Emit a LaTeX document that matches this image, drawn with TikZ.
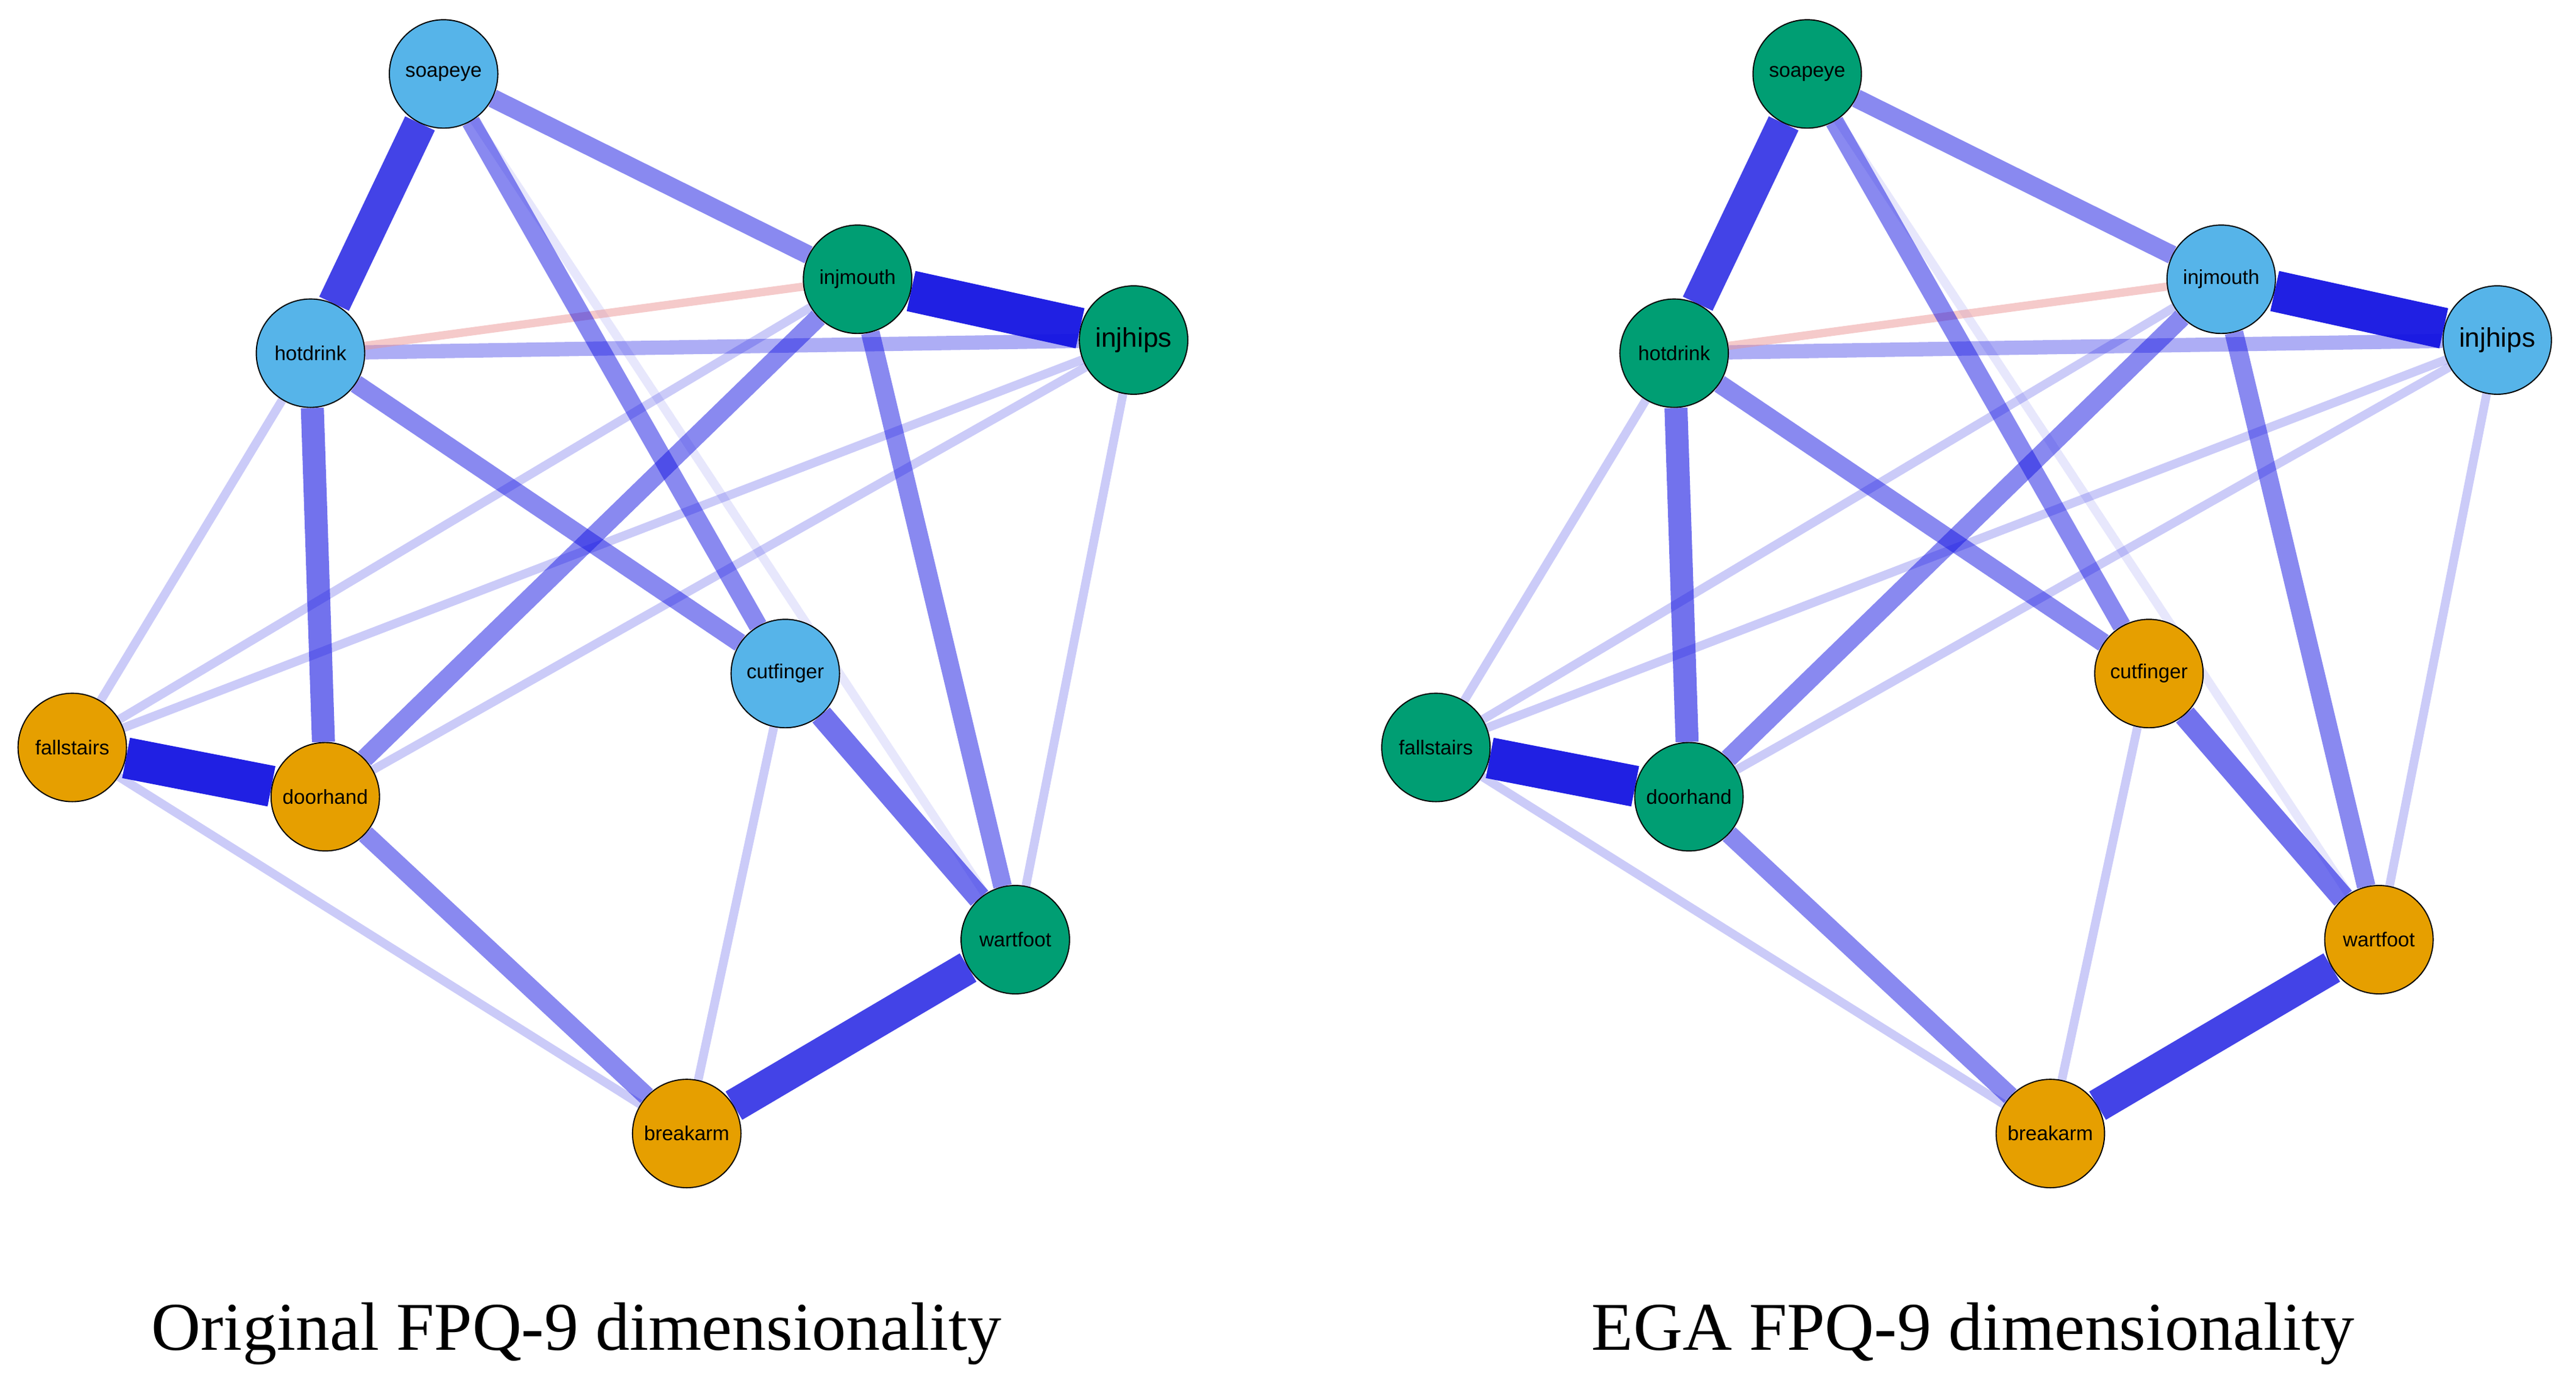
\documentclass[tikz,border=0pt]{standalone}
\usepackage{fontspec}
\setmainfont{Liberation Serif}
\newfontfamily\lsans{Liberation Sans}
\usetikzlibrary{backgrounds}
\definecolor{nblue}{HTML}{56B4E9}
\definecolor{ngreen}{HTML}{009E73}
\definecolor{norange}{HTML}{E69F00}
\definecolor{eb}{RGB}{20,20,225}
\definecolor{ecolred}{RGB}{235,150,150}
\tikzset{
 nd/.style={circle,draw=black,line width=0.6pt,minimum size=1.98cm,inner sep=0pt,font=\lsans\fontsize{10.5}{10.5}\selectfont},
 e1/.style={eb,opacity=0.22,line width=1.6mm},
 e2/.style={eb,opacity=0.35,line width=2.6mm},
 e3/.style={eb,opacity=0.5,line width=3.4mm},
 e4/.style={eb,opacity=0.6,line width=4.2mm},
 e5/.style={eb,opacity=0.8,line width=6mm},
 e6/.style={eb,opacity=0.95,line width=7.5mm},
 ered/.style={ecolred,opacity=0.5,line width=1.5mm},
}
\newcommand\mynet[2]{%
\begin{scope}[xshift=#2cm]
\node[nd,fill=\csname #1soapeye\endcsname] (#1s) at (270*0.03,-45*0.03) {soapeye};
\node[nd,fill=\csname #1injmouth\endcsname] (#1m) at (522*0.03,-170*0.03) {injmouth};
\node[nd,fill=\csname #1injhips\endcsname,font=\lsans\fontsize{14}{14}\selectfont] (#1h) at (690*0.03,-207*0.03) {injhips};
\node[nd,fill=\csname #1hotdrink\endcsname] (#1d) at (189*0.03,-215*0.03) {hotdrink};
\node[nd,fill=\csname #1cutfinger\endcsname] (#1c) at (478*0.03,-410*0.03) {cutfinger};
\node[nd,fill=\csname #1fallstairs\endcsname] (#1f) at (44*0.03,-455*0.03) {fallstairs};
\node[nd,fill=\csname #1doorhand\endcsname] (#1o) at (198*0.03,-485*0.03) {doorhand};
\node[nd,fill=\csname #1wartfoot\endcsname] (#1w) at (618*0.03,-572*0.03) {wartfoot};
\node[nd,fill=\csname #1breakarm\endcsname] (#1b) at (418*0.03,-690*0.03) {breakarm};
\begin{scope}[on background layer]
\draw[e1,opacity=0.1] (#1s)--(#1w);
\draw[e1] (#1m)--(#1f);
\draw[e1] (#1h)--(#1f);
\draw[e1] (#1h)--(#1o);
\draw[e1] (#1h)--(#1w);
\draw[e1] (#1d)--(#1f);
\draw[e1] (#1f)--(#1b);
\draw[e1] (#1c)--(#1b);
\draw[e2] (#1d)--(#1h);
\draw[ered] (#1d)--(#1m);
\draw[e3] (#1s)--(#1m);
\draw[e3] (#1s)--(#1c);
\draw[e3] (#1m)--(#1w);
\draw[e3] (#1m)--(#1o);
\draw[e3] (#1d)--(#1c);
\draw[e3] (#1o)--(#1b);
\draw[e4] (#1d)--(#1o);
\draw[e4] (#1c)--(#1w);
\draw[e5] (#1b)--(#1w);
\draw[e5] (#1s)--(#1d);
\draw[e6] (#1m)--(#1h);
\draw[e6] (#1f)--(#1o);
\end{scope}
\end{scope}}
\def\Lsoapeye{nblue}\def\Linjmouth{ngreen}\def\Linjhips{ngreen}\def\Lhotdrink{nblue}\def\Lcutfinger{nblue}
\def\Lfallstairs{norange}\def\Ldoorhand{norange}\def\Lwartfoot{ngreen}\def\Lbreakarm{norange}
\def\Rsoapeye{ngreen}\def\Rinjmouth{nblue}\def\Rinjhips{nblue}\def\Rhotdrink{ngreen}\def\Rcutfinger{norange}
\def\Rfallstairs{ngreen}\def\Rdoorhand{ngreen}\def\Rwartfoot{norange}\def\Rbreakarm{norange}
\begin{document}
\begin{tikzpicture}
\useasboundingbox (0,0) rectangle (1568*0.03,-846*0.03);
\mynet{L}{0}
\mynet{R}{24.9}
\node[font=\fontsize{35.5}{35.5}\selectfont] (t1) at (351*0.03,-812*0.03) {Original FPQ-9 dimensionality};
\node[font=\fontsize{35.5}{35.5}\selectfont] (t2) at (1201*0.03,-812*0.03) {EGA FPQ-9 dimensionality};
\end{tikzpicture}
\end{document}
